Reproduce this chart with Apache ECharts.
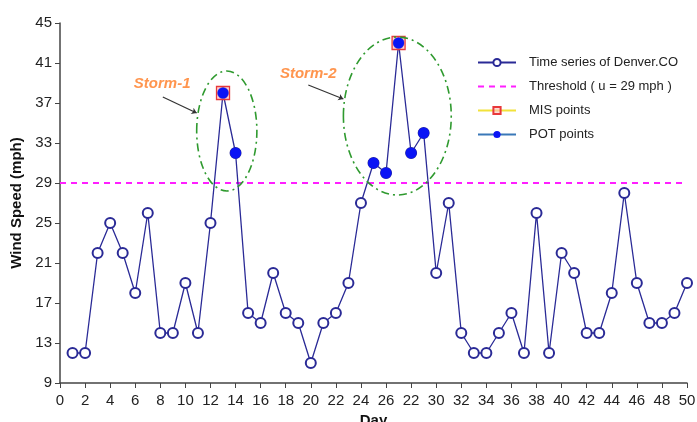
<!DOCTYPE html>
<html>
<head>
<meta charset="utf-8">
<script src="https://cdn.jsdelivr.net/npm/echarts@6/dist/echarts.min.js"></script>
<style>
  html, body { margin: 0; padding: 0; background: #fff; }
  #main { width: 697px; height: 422px; }
</style>
</head>
<body>
<div id="main"></div>
<script type="text/javascript">
    // daily wind speed, Denver CO (days 1..50)
    var days = [];
    for (var d = 1; d <= 50; d++) days.push(d);
    var windSpeed = [12, 12, 22, 25, 22, 18, 26, 14, 14, 19,
                     14, 25, 38, 32, 16, 15, 20, 16, 15, 11,
                     15, 16, 19, 27, 31, 30, 43, 32, 34, 20,
                     27, 14, 12, 12, 14, 16, 12, 26, 12, 22,
                     20, 14, 14, 18, 28, 19, 15, 15, 16, 19];
    var threshold = 29;
    var misDays = [13, 27];
    var potDays = [13, 14, 25, 26, 27, 28, 29];
    var yTicks = [9, 13, 17, 21, 25, 29, 33, 37, 41, 45];
    // the original figure prints "22" under tick 28
    var xTickLabels = ['0', '2', '4', '6', '8', '10', '12', '14', '16', '18', '20', '22', '24',
                       '26', '22', '30', '32', '34', '36', '38', '40', '42', '44', '46', '48', '50'];

    var seriesData = days.map(function (d, i) { return [d, windSpeed[i]]; });
    var misData = misDays.map(function (d) { return [d, windSpeed[d - 1]]; });
    var potData = potDays.map(function (d) { return [d, windSpeed[d - 1]]; });

    // storm ellipses: [centerDay, centerSpeed, radiusDays, radiusSpeed]
    var storms = [[13.3, 34.2, 2.4, 6.0], [26.9, 35.7, 4.3, 7.9]];

    var myChart = echarts.init(document.getElementById('main'));
    var font = 'Liberation Sans, Arial, sans-serif';
    option = {
        animation: false,
        backgroundColor: '#fff',
        textStyle: { fontFamily: font },
        grid: { left: 60, right: 10, top: 23, bottom: 39, outerBoundsMode: 'none', containLabel: false },
        legend: {
            orient: 'vertical',
            left: 472,
            top: 51,
            itemWidth: 38,
            itemHeight: 9,
            itemGap: 11,
            textStyle: { fontSize: 13, color: '#222', fontFamily: font, padding: [0, 0, 0, 8] },
            data: [
                { name: 'Time series of Denver.CO' },
                { name: 'Threshold ( u = 29 mph )', itemStyle: { opacity: 0 } },
                { name: 'MIS points', lineStyle: { color: '#f2e23a', width: 2, opacity: 1 } },
                { name: 'POT points', lineStyle: { color: '#3a78b8', width: 2, opacity: 1 } }
            ]
        },
        xAxis: {
            type: 'value',
            min: 0, max: 50, interval: 2,
            name: 'Day',
            nameLocation: 'middle',
            nameGap: 30,
            nameTextStyle: { fontSize: 15, fontWeight: 'bold', color: '#111' },
            axisLine: { lineStyle: { color: '#444', width: 1.5 } },
            axisTick: { length: 5, lineStyle: { color: '#444' } },
            axisLabel: {
                fontSize: 15, color: '#222', margin: 10,
                formatter: function (v) { return xTickLabels[Math.round(v / 2)]; }
            },
            splitLine: { show: false }
        },
        yAxis: {
            type: 'value',
            min: 9, max: 45,
            name: 'Wind Speed (mph)',
            nameLocation: 'middle',
            nameGap: 29,
            nameTextStyle: { fontSize: 15, fontWeight: 'bold', color: '#111' },
            axisLine: { show: true, lineStyle: { color: '#444', width: 1.5 } },
            axisTick: { show: true, length: 5, customValues: yTicks, lineStyle: { color: '#444' } },
            axisLabel: { fontSize: 15, color: '#222', margin: 8, customValues: yTicks },
            splitLine: { show: false }
        },
        series: [
            {
                name: 'Time series of Denver.CO',
                type: 'line',
                data: seriesData,
                symbol: 'emptyCircle',
                symbolSize: 10,
                lineStyle: { color: '#2a2a96', width: 1.3 },
                itemStyle: { color: '#2a2a96', borderWidth: 1.3 },
                z: 3
            },
            {
                name: 'Threshold ( u = 29 mph )',
                type: 'line',
                data: [[0, threshold], [50, threshold]],
                symbol: 'none',
                lineStyle: { color: '#ff1fff', width: 2, type: [6, 5] },
                itemStyle: { color: '#ff1fff' },
                z: 2
            },
            {
                name: 'MIS points',
                type: 'line',
                data: misData,
                symbol: 'rect',
                symbolSize: 13,
                lineStyle: { width: 0, opacity: 0 },
                itemStyle: { color: 'rgba(255,190,190,0.6)', borderColor: '#e8383a', borderWidth: 1.3 },
                z: 4
            },
            {
                name: 'POT points',
                type: 'line',
                data: potData,
                symbol: 'circle',
                symbolSize: 11,
                lineStyle: { width: 0, opacity: 0 },
                itemStyle: { color: '#0a14f5' },
                z: 5
            },
            {
                name: 'storms',
                type: 'custom',
                data: storms,
                z: 6,
                renderItem: function (params, api) {
                    var c = api.coord([api.value(0), api.value(1)]);
                    var s = api.size([api.value(2), api.value(3)]);
                    return {
                        type: 'ellipse',
                        shape: { cx: c[0], cy: c[1], rx: s[0], ry: s[1] },
                        style: { fill: null, stroke: '#2f9a2f', lineWidth: 1.6, lineDash: [8, 4, 2, 4] }
                    };
                }
            },
            {
                name: 'arrows',
                type: 'lines',
                coordinateSystem: 'cartesian2d',
                symbol: ['none', 'arrow'],
                symbolSize: 5,
                lineStyle: { color: '#333', width: 1.2, opacity: 1 },
                z: 6,
                data: [
                    { coords: [[8.2, 37.6], [10.9, 36.0]] },
                    { coords: [[19.8, 38.8], [22.6, 37.4]] }
                ]
            },
            {
                name: 'labels',
                type: 'scatter',
                symbolSize: 0,
                z: 7,
                label: {
                    show: true,
                    position: 'inside',
                    formatter: '{b}',
                    color: '#ff7a22',
                    fontSize: 15,
                    fontWeight: 'bold',
                    fontStyle: 'italic'
                },
                data: [
                    { name: 'Storm-1', value: [8.15, 38.9] },
                    { name: 'Storm-2', value: [19.8, 39.9] }
                ]
            }
        ]
    };

    myChart.setOption(option);
</script>
</body>
</html>
